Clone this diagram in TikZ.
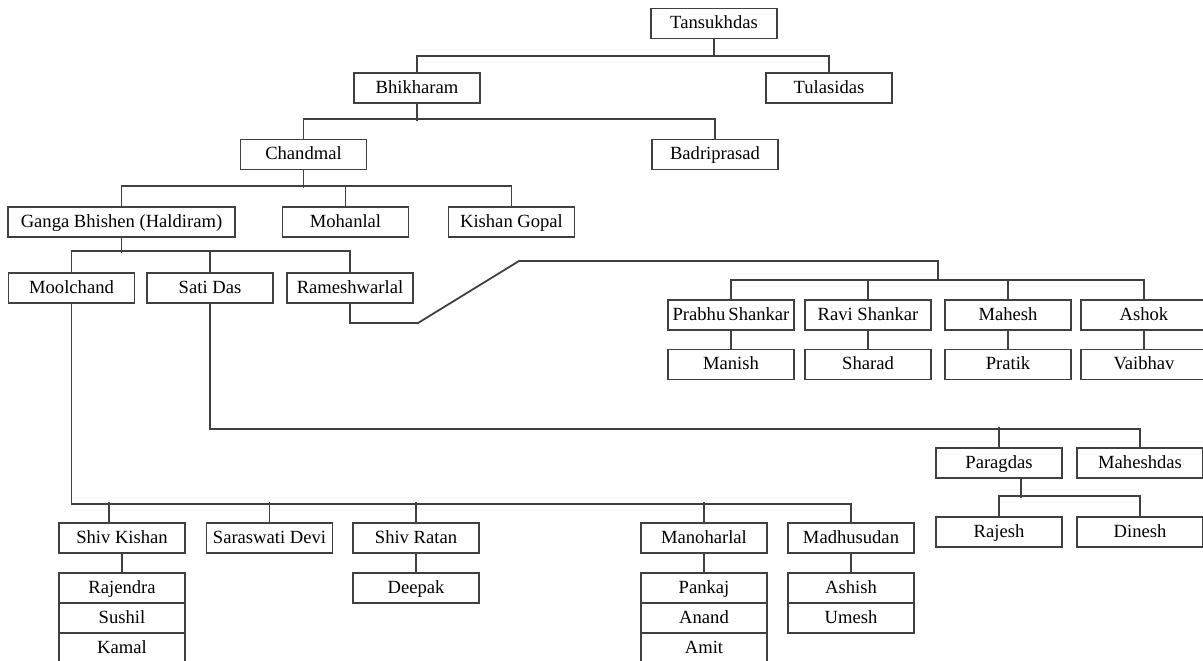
\documentclass[tikz,border=0pt]{standalone}
\usepackage{fontspec}
\setmainfont{Liberation Serif}

\begin{document}
\begin{tikzpicture}[x=0.5pt,y=-0.5pt,
  person/.style={draw=black!75,line width=0.8pt,fill=white,minimum width=63pt,minimum height=15pt,inner sep=0pt,text height=1.6ex,text depth=0.45ex,font=\fontsize{9.3}{10}\selectfont},
  link/.style={draw=black!75,line width=0.9pt}]
\useasboundingbox (0,0) rectangle (1203,660);
% generation 1-3
\node[person] (tansukh) at (714,23.5) {Tansukhdas};
\node[person] (bhikha) at (417,88) {Bhikharam};
\node[person] (tulasi) at (829,88) {Tulasidas};
\node[person] (chand) at (303.5,154.5) {Chandmal};
\node[person] (badri) at (715,154.5) {Badriprasad};
\node[person,minimum width=113.5pt] (ganga) at (121.5,222) {Ganga Bhishen (Haldiram)};
\node[person] (mohan) at (345.5,222) {Mohanlal};
\node[person] (kishan) at (511.5,222) {Kishan Gopal};
% sons of Haldiram
\node[person] (mool) at (71.5,288) {Moolchand};
\node[person] (sati) at (210,288) {Sati Das};
\node[person] (ramesh) at (350,288) {Rameshwarlal};
% Rameshwarlal's line
\foreach \x/\son/\sname in {731/manish/Manish, 868/sharad/Sharad, 1008/pratik/Pratik, 1144/vaibhav/Vaibhav}{
  \node[person] (\son) at (\x,364.5) {\sname};
}
\node[person] (prabhu) at (731,315) {Prabhu\,Shankar};
\node[person] (ravi) at (868,315) {Ravi Shankar};
\node[person] (mahesh) at (1008,315) {Mahesh};
\node[person] (ashok) at (1144,315) {Ashok};
% Sati Das's line
\node[person] (parag) at (999,463) {Paragdas};
\node[person] (maheshdas) at (1140,463) {Maheshdas};
\node[person] (rajesh) at (999,532) {Rajesh};
\node[person] (dinesh) at (1140,532) {Dinesh};
% Moolchand's line
\node[person] (shivk) at (122,538) {Shiv Kishan};
\node[person] (saras) at (269.5,538) {Saraswati Devi};
\node[person] (shivr) at (416,538) {Shiv Ratan};
\node[person] (manohar) at (704,538) {Manoharlal};
\node[person] (madhu) at (851,538) {Madhusudan};
\node[person] (rajendra) at (122,588) {Rajendra};
\node[person] (sushil) at (122,618) {Sushil};
\node[person] (kamal) at (122,648) {Kamal};
\node[person] (deepak) at (416,588) {Deepak};
\node[person] (pankaj) at (704,588) {Pankaj};
\node[person] (anand) at (704,618) {Anand};
\node[person] (amit) at (704,648) {Amit};
\node[person] (ashish) at (851,588) {Ashish};
\node[person] (umesh) at (851,618) {Umesh};

% connectors
\draw[link] (tansukh.south) -- ++(0,18);
\draw[link] (bhikha.north) -- ++(0,-16) -| (tulasi.north);
\draw[link] (bhikha.south) -- ++(0,17);
\draw[link] (chand.north) -- ++(0,-19.5) -| (badri.north);
\draw[link] (chand.south) -- ++(0,17.5);
\draw[link] (ganga.north) -- ++(0,-20) -| (kishan.north);
\draw[link] (mohan.north) -- ++(0,-20);
\draw[link] (ganga.south) -- ++(0,15);
\draw[link] (mool.north) -- ++(0,-21) -| (ramesh.north);
\draw[link] (sati.north) -- ++(0,-21);
% Rameshwarlal
\coordinate (rjoin) at (938,280);
\draw[link] (ramesh.south) |- (418,323) -- (519,261) -| (rjoin);
\draw[link] (prabhu.north) -- ++(0,-19.5) -| (ashok.north);
\foreach \a/\b in {ravi/sharad, mahesh/pratik, prabhu/manish, ashok/vaibhav}{
  \draw[link] (\a.north) -- ++(0,-19.5);
  \draw[link] (\a.south) -- (\b.north);
}
% Sati Das
\draw[link] (sati.south) -- ++(0,125) -| (maheshdas.north);
\draw[link] (parag.north) -- ++(0,-20);
\draw[link] ([xshift=11pt]parag.south) -- ++(0,19);
\draw[link] (rajesh.north) -- ++(0,-20) -| (dinesh.north);
% Moolchand
\draw[link] (mool.south) -- ++(0,200) -| (madhu.north);
\draw[link] ([xshift=-6.5pt]shivk.north) -- ++(0,-20);
\foreach \n in {saras, shivr, manohar}{
  \draw[link] (\n.north) -- ++(0,-20);
}
\draw[link] (shivk.south) -- (rajendra.north);
\draw[link] (shivr.south) -- (deepak.north);
\draw[link] (manohar.south) -- (pankaj.north);
\draw[link] (madhu.south) -- (ashish.north);
\end{tikzpicture}
\end{document}
